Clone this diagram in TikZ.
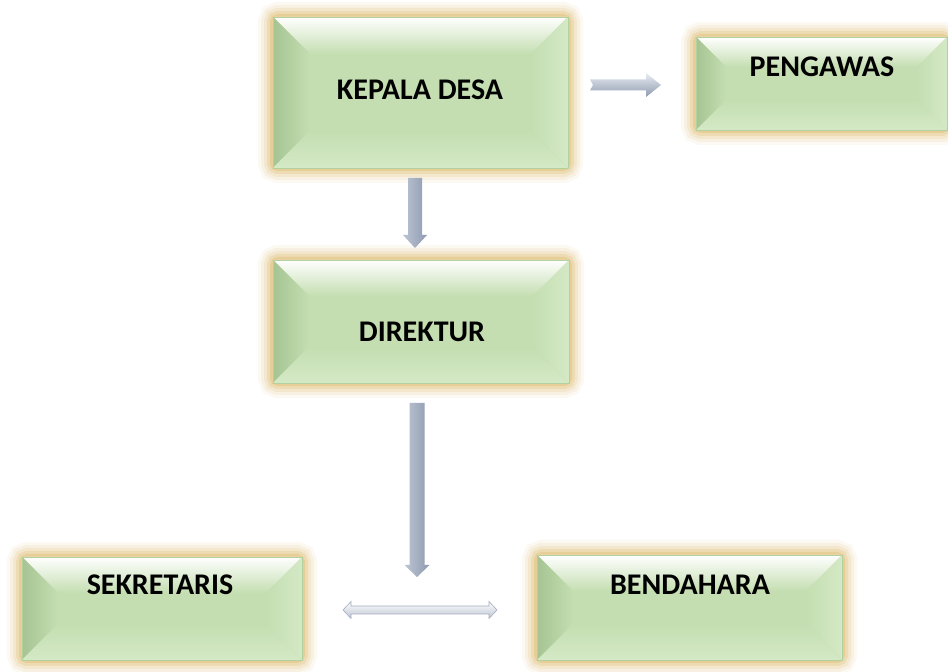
\documentclass[tikz,border=0pt]{standalone}
\usepackage{fontspec}
\setmainfont{Carlito}
\usetikzlibrary{calc}
\definecolor{boxgreen}{HTML}{C4DEB1}
\definecolor{boxdark}{HTML}{A6C493}
\definecolor{boxlight}{HTML}{D4E9C6}
\definecolor{boxedge}{HTML}{B3D09F}
\definecolor{glowc}{HTML}{E0BC72}
\definecolor{arrdark}{HTML}{8E9AAF}
\definecolor{arrmid}{HTML}{BCC5D3}
\definecolor{arrlight}{HTML}{E9EDF3}
\tikzset{
  orgbox/.style={rectangle, fill=boxgreen, inner sep=0pt, outer sep=0pt},
  orglabel/.style={font=\fontsize{30}{32}\selectfont\bfseries, text=black, inner sep=0pt},
  varr/.style={left color=arrmid, middle color=arrlight!70!arrmid, right color=arrdark},
  harr/.style={top color=arrlight, bottom color=arrdark},
  darr/.style={top color=white, bottom color=arrmid, draw=arrdark!80, line width=0.6pt},
}
\newcommand{\glowbox}[1]{%
  \foreach \w/\o in {30/0.08,24/0.12,18/0.18,12/0.28,6/0.45}{%
    \draw[glowc, line width=\w pt, opacity=\o, rounded corners=5pt] (#1.south west) rectangle (#1.north east);}%
}
\newcommand{\bevelbox}[2]{%
  \glowbox{#1}%
  \shade[top color=white, middle color=boxgreen!50!white, bottom color=boxgreen]
    (#1.north west) -- (#1.north east) -- ($(#1.north east)+(-#2,-#2)$) -- ($(#1.north west)+(#2,-#2)$) -- cycle;
  \shade[left color=boxdark, right color=boxgreen]
    (#1.north west) -- ($(#1.north west)+(#2,-#2)$) -- ($(#1.south west)+(#2,#2)$) -- (#1.south west) -- cycle;
  \shade[top color=boxgreen, bottom color=boxlight]
    (#1.south west) -- ($(#1.south west)+(#2,#2)$) -- ($(#1.south east)+(-#2,#2)$) -- (#1.south east) -- cycle;
  \shade[left color=boxgreen, right color=boxlight]
    (#1.north east) -- ($(#1.north east)+(-#2,-#2)$) -- ($(#1.south east)+(-#2,#2)$) -- (#1.south east) -- cycle;
  \draw[boxedge, line width=0.8pt] (#1.south west) rectangle (#1.north east);
}
\newcommand{\downblk}[5]{%
  \shade[varr] let \p1=(#1), \p2=(#2) in
    (\x1-#3,\y1) -- (\x1+#3,\y1) -- (\x1+#3,\y2+#5) -- (\x1+#4,\y2+#5) -- (\x1,\y2)
    -- (\x1-#4,\y2+#5) -- (\x1-#3,\y2+#5) -- cycle;}
\newcommand{\rightblk}[5]{%
  \shade[harr] let \p1=(#1), \p2=(#2) in
    (\x1,\y1-#3) -- (\x2-#5,\y1-#3) -- (\x2-#5,\y1-#4) -- (\x2,\y1) -- (\x2-#5,\y1+#4)
    -- (\x2-#5,\y1+#3) -- (\x1,\y1+#3) -- (\x1+3pt,\y1) -- cycle;}
\newcommand{\dblblk}[5]{%
  \shade[darr] let \p1=(#1), \p2=(#2) in
    (\x1,\y1) -- (\x1+#5,\y1+#4) -- (\x1+#5,\y1+#3) -- (\x2-#5,\y1+#3) -- (\x2-#5,\y1+#4)
    -- (\x2,\y1) -- (\x2-#5,\y1-#4) -- (\x2-#5,\y1-#3) -- (\x1+#5,\y1-#3) -- (\x1+#5,\y1-#4) -- cycle;}
\begin{document}
\begin{tikzpicture}[x=1pt,y=1pt]
\useasboundingbox (0,0) rectangle (948,672);
\fill[white] (0,0) rectangle (948,672);
% boxes
\node[orgbox, minimum width=295pt, minimum height=151pt] (kepala) at (420.5,579.5) {};
\node[orgbox, minimum width=251pt, minimum height=93pt] (pengawas) at (821.5,588.5) {};
\node[orgbox, minimum width=296pt, minimum height=123pt] (direktur) at (421,350.5) {};
\node[orgbox, minimum width=280pt, minimum height=103pt] (sekretaris) at (162,63.5) {};
\node[orgbox, minimum width=305pt, minimum height=105pt] (bendahara) at (689.5,64.5) {};
\bevelbox{kepala}{37}
\bevelbox{pengawas}{30}
\bevelbox{direktur}{36}
\bevelbox{sekretaris}{36}
\bevelbox{bendahara}{36}
% labels
\node[orglabel] (kepala-t) at (420,582) {KEPALA DESA};
\node[orglabel] (pengawas-t) at (822,605) {PENGAWAS};
\node[orglabel] (direktur-t) at (422,340) {DIREKTUR};
\node[orglabel] (sekretaris-t) at (160,87) {SEKRETARIS};
\node[orglabel] (bendahara-t) at (690,87) {BENDAHARA};
% arrows
\coordinate (a1s) at (590,587);
\coordinate (a1e) at (661,587);
\coordinate (d1s) at (415,494);
\coordinate (d1e) at (415,424);
\coordinate (d2s) at (417,269);
\coordinate (d2e) at (417,95);
\coordinate (h1s) at (343,62);
\coordinate (h1e) at (497,62);
\rightblk{a1s}{a1e}{5.5pt}{12pt}{15pt}
\downblk{d1s}{d1e}{7pt}{12pt}{13pt}
\downblk{d2s}{d2e}{7.5pt}{12.5pt}{12pt}
\dblblk{h1s}{h1e}{4pt}{8.5pt}{8pt}
\end{tikzpicture}
\end{document}
